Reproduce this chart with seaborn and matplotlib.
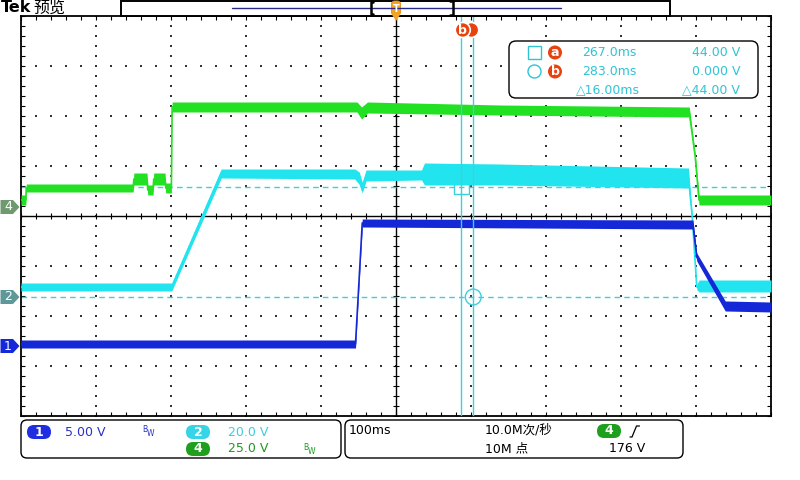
import numpy as np
import pandas as pd
import matplotlib
matplotlib.use('Agg')
import matplotlib.pyplot as plt
from matplotlib.patches import Circle, Rectangle, Polygon, FancyBboxPatch
import seaborn as sns

# --- scope settings ---
ch_names = ['1', '2', '4']
ch_scale = [5.0, 20.0, 25.0]          # V/div
ch_pos = [-2.6, -1.62, 0.18]          # ground position in divisions
time_div = 100                        # ms/div
t_left = -320                         # ms at left edge of screen
sample_rate = '10.0M次/秒'
record_len = '10M 点'
trig_level = '176 V'

# --- channel 1 (blue), volts ---
ch1_t = [-320, 126, 135, 576, 581, 619, 680]
ch1_v = [0.2, 0.2, 12.3, 12.1, 8.9, 4.0, 3.9]
ch1_lo = [-0.2, -0.2, 11.9, 11.7, 8.5, 3.5, 3.4]
ch1_hi = [0.6, 0.6, 12.7, 12.6, 9.3, 4.5, 4.4]

# --- channel 2 (cyan), volts ---
ch2_t = [-320, -119, -53, 125, 131, 135, 140, 214, 218, 319, 570, 575, 581, 584, 680]
ch2_v = [4.0, 4.0, 49.6, 49.2, 47.6, 42.8, 48.4, 48.8, 49.2, 48.8, 47.6, 32.0, 4.0, 4.4, 4.4]
ch2_lo = [2.4, 2.4, 47.6, 47.2, 45.0, 41.6, 46.4, 46.8, 44.8, 44.8, 43.6, 31.0, 3.0, 2.0, 2.0]
ch2_hi = [5.6, 5.6, 51.2, 51.2, 50.0, 46.0, 50.8, 50.8, 53.6, 53.2, 51.6, 33.0, 5.0, 6.8, 6.8]

# --- channel 4 (green), volts ---
ch4_t = [-320, -313.5, -313, -170.5, -169.5, -152, -151, -144, -143, -128, -127, -119.5,
         -118.5, 92, 128, 134, 142, 319, 571, 579, 584, 680]
ch4_v = [3.5, 3.5, 9.5, 9.5, 14, 14, 8.5, 8.5, 14, 14, 9.5, 9.5,
         50, 50, 50, 47.5, 49.8, 48.5, 47.5, 25, 3.5, 3.5]
ch4_lo = [1, 1, 7.5, 7.5, 11, 11, 6, 6, 11, 11, 7, 7,
          47.5, 47.5, 47.5, 44, 47, 46, 45, 23.5, 1, 1]
ch4_hi = [6, 6, 11.5, 11.5, 17, 17, 11, 11, 17, 17, 12, 12,
          52.5, 52.5, 52.5, 50, 52.5, 51, 50, 26.5, 6, 6]

# --- cursors (source ch2) ---
cursor_t = [267.0, 283.0]
cursor_v = [44.0, 0.0]

sns.set_theme(style='white')
plt.rcParams['font.family'] = ['DejaVu Sans', 'Noto Sans CJK SC']

BLUE = '#1428d8'
CYAN = '#22e4ee'
GREEN = '#22e022'
CUR = '#3cd0dc'
TXT_CYAN = '#2ec4d4'
ORANGE_RED = '#e8420e'

t_right = t_left + 10 * time_div
t_mid = t_left + 5 * time_div

fig = plt.figure(figsize=(8, 4.8), dpi=100)
fig.patch.set_facecolor('white')
ax = fig.add_axes([21 / 800, 64 / 480, 750 / 800, 400 / 480])
ax.set_facecolor('white')
ax.set_xlim(t_left, t_right)
ax.set_ylim(-4, 4)

# graticule: dotted grid, centre cross, edge ticks
for k in range(1, 10):
    if k == 5:
        continue
    tx = t_left + k * time_div
    yy = np.arange(-4, 4.001, 0.2)
    ax.scatter(np.full(len(yy), tx), yy, s=1.3, marker='s', color='#333333', lw=0, zorder=1)
for k in [-3, -2, -1, 1, 2, 3]:
    xx = np.arange(t_left, t_right + 0.1, time_div / 5)
    ax.scatter(xx, np.full(len(xx), k), s=1.3, marker='s', color='#333333', lw=0, zorder=1)
ax.axvline(t_mid, color='black', lw=1, zorder=1)
ax.axhline(0, color='black', lw=1, zorder=1)
xx = np.arange(t_left, t_right + 0.1, time_div / 5)
ax.scatter(xx, np.zeros(len(xx)), marker='|', s=14, color='black', lw=0.8, zorder=1)
yy = np.arange(-4, 4.001, 0.2)
ax.scatter(np.full(len(yy), t_mid), yy, marker='_', s=14, color='black', lw=0.8, zorder=1)

ax.set_xticks(np.arange(t_left, t_right + 0.1, time_div / 5))
ax.set_yticks(np.arange(-4, 4.001, 0.2))
ax.tick_params(direction='in', length=3, width=0.8, color='black',
               bottom=True, top=True, left=True, right=True,
               labelbottom=False, labelleft=False)
for s in ax.spines.values():
    s.set_color('black')
    s.set_linewidth(1.3)

# cursor level lines (ch2)
lvl = [ch_pos[1] + v / ch_scale[1] for v in cursor_v]
for y in lvl:
    ax.axhline(y, color=CUR, lw=1, ls=(0, (4, 3)), zorder=2)
ax.scatter([cursor_t[0]], [lvl[0]], marker='s', s=110, facecolors='none', edgecolors=CUR, lw=1, zorder=2)
ax.scatter([cursor_t[1]], [lvl[1]], marker='o', s=130, facecolors='none', edgecolors=CUR, lw=1, zorder=2)

# traces
traces = [
    (ch4_t, ch4_v, ch4_lo, ch4_hi, 2, GREEN),
    (ch2_t, ch2_v, ch2_lo, ch2_hi, 1, CYAN),
    (ch1_t, ch1_v, ch1_lo, ch1_hi, 0, BLUE),
]
for i, (t, v, lo, hi, c, col) in enumerate(traces):
    df = pd.DataFrame({'t': t,
                       'div': np.array(v) / ch_scale[c] + ch_pos[c],
                       'lo': np.array(lo) / ch_scale[c] + ch_pos[c],
                       'hi': np.array(hi) / ch_scale[c] + ch_pos[c]})
    ax.fill_between(df['t'], df['lo'], df['hi'], color=col, lw=0, zorder=3 + i)
    sns.lineplot(data=df, x='t', y='div', ax=ax, color=col, lw=1.2,
                 sort=False, estimator=None, zorder=3 + i)
ax.set_xlabel('')
ax.set_ylabel('')

# cursor time lines
for tc in cursor_t:
    ax.axvline(tc, color=CUR, lw=1, zorder=8)

# ---------- overlay (screen chrome, pixel coords) ----------
ov = fig.add_axes([0, 0, 1, 1], zorder=5)
ov.set_xlim(0, 800)
ov.set_ylim(480, 0)
ov.axis('off')
ov.patch.set_alpha(0)


def px_t(t):
    return 21 + (t - t_left) * 750 / (10 * time_div)


def px_y(d):
    return 216 - d * 50


def sig4(v):
    if v == 0:
        return f'{0:.3f}'
    d = max(0, 3 - int(np.floor(np.log10(abs(v)))))
    return f'{v:.{d}f}'


# header
ov.text(1, 8, 'Tek', fontsize=11.5, fontweight='bold', va='center', ha='left', color='black')
ov.text(33, 8, '预览', fontsize=11.5, va='center', ha='left', color='black')
ov.add_patch(Rectangle((121, 0.5), 549, 15, fc='white', ec='black', lw=1.4))
ov.plot([232, 561], [7.5, 7.5], color='#28288a', lw=1)
ov.plot([373, 370.5, 370.5, 373], [2, 2, 14, 14], color='black', lw=1.8)
ov.plot([450, 452.5, 452.5, 450], [1, 1, 15, 15], color='black', lw=1.8)
tx = px_t(t_mid)
ov.add_patch(FancyBboxPatch((tx - 4.5, 1), 9, 14, boxstyle='round,pad=0,rounding_size=3',
                            fc='#f2a428', ec='#e08a10', lw=0.6))
ov.add_patch(Polygon([[tx - 4.5, 14], [tx + 4.5, 14], [tx, 21]], closed=True, fc='#f2a428', ec='none'))
ov.text(tx, 8.5, 'T', fontsize=7, fontweight='bold', color='white', ha='center', va='center')

# cursor labels
xa, xb = px_t(cursor_t[0]), px_t(cursor_t[1])
ov.add_patch(Circle((xb - 2, 30), 7.5, fc=ORANGE_RED, ec='white', lw=1.2))
ov.add_patch(Circle((xa + 1.5, 30), 7.5, fc=ORANGE_RED, ec='white', lw=1.2))
ov.text(xa + 1.5, 30, 'b', fontsize=9, fontweight='bold', color='white', ha='center', va='center')

# cursor readout box
ov.add_patch(FancyBboxPatch((509, 41), 249, 57, boxstyle='round,pad=0,rounding_size=7',
                            fc='white', ec='black', lw=1))
ov.add_patch(Rectangle((528, 46), 13, 13, fc='none', ec=TXT_CYAN, lw=1))
ov.add_patch(Circle((534.5, 71.5), 6.5, fc='none', ec=TXT_CYAN, lw=1))
for yy_, lab in [(52.5, 'a'), (71.5, 'b')]:
    ov.add_patch(Circle((555, yy_), 7, fc=ORANGE_RED, ec='none'))
    ov.text(555, yy_, lab, fontsize=9, fontweight='bold', color='white', ha='center', va='center')
ov.text(582, 52.5, f'{sig4(cursor_t[0])}ms', fontsize=9, color=TXT_CYAN, va='center')
ov.text(582, 71.5, f'{sig4(cursor_t[1])}ms', fontsize=9, color=TXT_CYAN, va='center')
ov.text(576, 90, f'△{sig4(cursor_t[1] - cursor_t[0])}ms', fontsize=9, color=TXT_CYAN, va='center')
ov.text(740, 52.5, f'{sig4(cursor_v[0])} V', fontsize=9, color=TXT_CYAN, va='center', ha='right')
ov.text(740, 71.5, f'{sig4(cursor_v[1])} V', fontsize=9, color=TXT_CYAN, va='center', ha='right')
ov.text(740, 90, f'△{sig4(abs(cursor_v[0] - cursor_v[1]))} V', fontsize=9, color=TXT_CYAN,
        va='center', ha='right')

# channel ground markers
mk_col = [BLUE, '#5f9898', '#6f9a6f']
for name, pos, col in zip(ch_names, ch_pos, mk_col):
    y = px_y(pos)
    ov.add_patch(Polygon([[0.5, y - 7], [13, y - 7], [19.5, y], [13, y + 7], [0.5, y + 7]],
                         closed=True, fc=col, ec='none'))
    ov.text(8, y, name, fontsize=9, color='white', ha='center', va='center')

# bottom status boxes
ov.add_patch(FancyBboxPatch((21, 420), 320, 38, boxstyle='round,pad=0,rounding_size=6',
                            fc='white', ec='black', lw=1))
ov.add_patch(FancyBboxPatch((345, 420), 338, 38, boxstyle='round,pad=0,rounding_size=6',
                            fc='white', ec='black', lw=1))


def pill(x, y, label, col):
    ov.add_patch(FancyBboxPatch((x - 12, y - 7), 24, 14, boxstyle='round,pad=0,rounding_size=7',
                                fc=col, ec='none'))
    ov.text(x, y, label, fontsize=9, fontweight='bold', color='white', ha='center', va='center')


def bw(x, y, col):
    ov.text(x, y - 2, 'B', fontsize=5.5, color=col, ha='left', va='center')
    ov.text(x + 4.5, y + 2, 'W', fontsize=5.5, color=col, ha='left', va='center')


pill(39, 432, ch_names[0], '#1e2ee0')
ov.text(65, 432, f'{ch_scale[0]:.2f} V', fontsize=9, color='#2a30c8', va='center')
bw(142, 432, '#2a30c8')
pill(198, 432, ch_names[1], '#36d4e4')
ov.text(228, 432, f'{ch_scale[1]:.1f} V', fontsize=9, color='#3ccede', va='center')
pill(198, 449, ch_names[2], '#1ea01e')
ov.text(228, 449, f'{ch_scale[2]:.1f} V', fontsize=9, color='#1e9a1e', va='center')
bw(303, 449, '#1e9a1e')

ov.text(349, 430, f'{time_div}ms', fontsize=9, color='black', va='center')
ov.text(485, 430, sample_rate, fontsize=9, color='black', va='center')
ov.text(485, 449, record_len, fontsize=9, color='black', va='center')
pill(609, 431, ch_names[2], '#1ea01e')
ov.plot([630, 632, 636.5, 639.5], [437, 437, 426, 426], color='black', lw=0.9)
ov.text(609, 449, trig_level, fontsize=9, color='black', va='center')

fig.savefig('out.png', dpi=100, facecolor='white')
